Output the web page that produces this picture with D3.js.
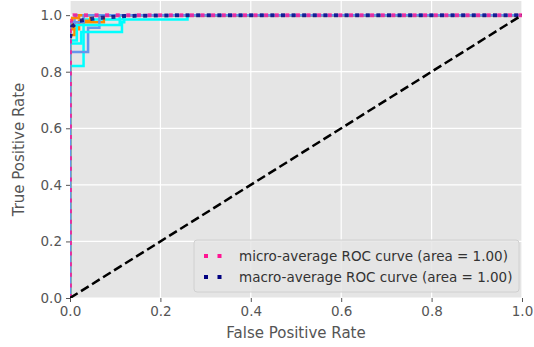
<!DOCTYPE html>
<html>
<head>
<meta charset="utf-8">
<script src="https://cdn.jsdelivr.net/npm/d3@7"></script>
<style>
  body { margin: 0; background: #fff; }
  svg { display: block; }
  text { font-family: "DejaVu Sans", sans-serif; }
</style>
</head>
<body>
<div id="chart"></div>
<script>
// per-class ROC curves: [fpr, tpr]
const classCurves = [
  [[0,0],[0,0.82],[0.03,0.82],[0.03,0.985],[0.26,0.985],[0.26,1],[1,1]],
  [[0,0],[0,0.93],[0.01,0.93],[0.01,0.975],[0.075,0.975],[0.075,1],[1,1]],
  [[0,0],[0,0.87],[0.04,0.87],[0.04,0.955],[0.065,0.955],[0.065,1],[1,1]],
  [[0,0],[0,0.9],[0.025,0.9],[0.025,0.94],[0.115,0.94],[0.115,0.975],[0.12,0.975],[0.12,1],[1,1]],
  [[0,0],[0,0.95],[0.02,0.95],[0.02,0.98],[0.045,0.98],[0.045,1],[1,1]],
  [[0,0],[0,0.965],[0.01,0.965],[0.01,1],[1,1]],
  [[0,0],[0,0.91],[0.015,0.91],[0.015,0.965],[0.11,0.965],[0.11,1],[1,1]],
  [[0,0],[0,0.96],[0.005,0.96],[0.005,0.99],[0.02,0.99],[0.02,1],[1,1]],
  [[0,0],[0,0.975],[0.03,0.975],[0.03,1],[1,1]]
];
const classColors = ["aqua", "darkorange", "cornflowerblue"];

const microCurve = [[0,0],[0,0.98],[0.002,0.98],[0.002,0.995],[0.01,0.995],[0.01,1],[1,1]];
const macroCurve = [[0,0.92],[0.005,0.96],[0.02,0.98],[0.06,0.99],[0.12,0.997],[0.26,1],[1,1]];
const diagonal = [[0,0],[1,1]];

const legendItems = [
  {label: "micro-average ROC curve (area = 1.00)", color: "deeppink"},
  {label: "macro-average ROC curve (area = 1.00)", color: "navy"}
];
const tickValues = [0, 0.2, 0.4, 0.6, 0.8, 1.0];

const width = 534, height = 347;
const margin = {top: 1, right: 12, bottom: 49, left: 70};
const w = width - margin.left - margin.right;
const h = height - margin.top - margin.bottom;

const svg = d3.select("#chart").append("svg")
  .attr("width", width).attr("height", height);

svg.append("defs").append("clipPath").attr("id", "plot-clip")
  .append("rect").attr("width", w).attr("height", h);

const g = svg.append("g").attr("transform", `translate(${margin.left},${margin.top})`);

const x = d3.scaleLinear().domain([0, 1]).range([0, w]);
const y = d3.scaleLinear().domain([0, 1.05]).range([h, 0]);

g.append("rect").attr("width", w).attr("height", h).attr("fill", "#e5e5e5");

// grid
g.selectAll(".gx").data(tickValues).join("line")
  .attr("x1", d => x(d)).attr("x2", d => x(d)).attr("y1", 0).attr("y2", h)
  .attr("stroke", "#fff").attr("stroke-width", 1.2);
g.selectAll(".gy").data(tickValues).join("line")
  .attr("y1", d => y(d)).attr("y2", d => y(d)).attr("x1", 0).attr("x2", w)
  .attr("stroke", "#fff").attr("stroke-width", 1.2);

const xAxis = d3.axisBottom(x).tickValues(tickValues).tickFormat(d3.format(".1f")).tickSize(4).tickPadding(4);
const yAxis = d3.axisLeft(y).tickValues(tickValues).tickFormat(d3.format(".1f")).tickSize(4).tickPadding(4);

const xa = g.append("g").attr("transform", `translate(0,${h})`).call(xAxis);
const ya = g.append("g").call(yAxis);
[xa, ya].forEach(a => {
  a.select(".domain").remove();
  a.selectAll(".tick line").attr("stroke", "#555");
  a.selectAll(".tick text").attr("fill", "#555").style("font-size", "13.5px");
});

const line = d3.line().x(d => x(d[0])).y(d => y(d[1]));
const plot = g.append("g").attr("clip-path", "url(#plot-clip)");

plot.append("g").selectAll("path").data(classCurves).join("path")
  .attr("d", line)
  .attr("fill", "none")
  .attr("stroke", (d, i) => classColors[i % classColors.length])
  .attr("stroke-width", 2.5);

plot.append("path").attr("d", line(microCurve))
  .attr("fill", "none").attr("stroke", "deeppink")
  .attr("stroke-width", 4).attr("stroke-dasharray", "4,6.6").attr("opacity", 0.8);
plot.append("path").attr("d", line(macroCurve))
  .attr("fill", "none").attr("stroke", "navy")
  .attr("stroke-width", 4).attr("stroke-dasharray", "4,6.6").attr("opacity", 0.8);

plot.append("path").attr("d", line(diagonal))
  .attr("fill", "none").attr("stroke", "#000")
  .attr("stroke-width", 2.5).attr("stroke-dasharray", "9,4");

// legend
const lg = g.append("g").attr("transform", `translate(${w - 328},${h - 58})`);
lg.append("rect").attr("width", 325).attr("height", 52).attr("rx", 3)
  .attr("fill", "#e5e5e5").attr("fill-opacity", 0.85).attr("stroke", "#d0d0d0");
const li = lg.selectAll(".item").data(legendItems).join("g")
  .attr("transform", (d, i) => `translate(8,${16 + i * 21})`);
li.append("line").attr("x1", 0).attr("x2", 24).attr("y1", 0).attr("y2", 0)
  .attr("stroke", d => d.color).attr("stroke-width", 4).attr("stroke-dasharray", "4,9.5")
  .attr("stroke-dashoffset", -2);
li.append("text").attr("x", 37).attr("dy", "0.35em")
  .attr("fill", "#333").style("font-size", "13.5px").text(d => d.label);

// axis labels
svg.append("text").attr("x", margin.left + w / 2).attr("y", height - 9)
  .attr("text-anchor", "middle").attr("fill", "#555").style("font-size", "15px")
  .text("False Positive Rate");
svg.append("text")
  .attr("transform", `translate(24,${margin.top + h / 2}) rotate(-90)`)
  .attr("text-anchor", "middle").attr("fill", "#555").style("font-size", "15px")
  .text("True Positive Rate");
</script>
</body>
</html>
